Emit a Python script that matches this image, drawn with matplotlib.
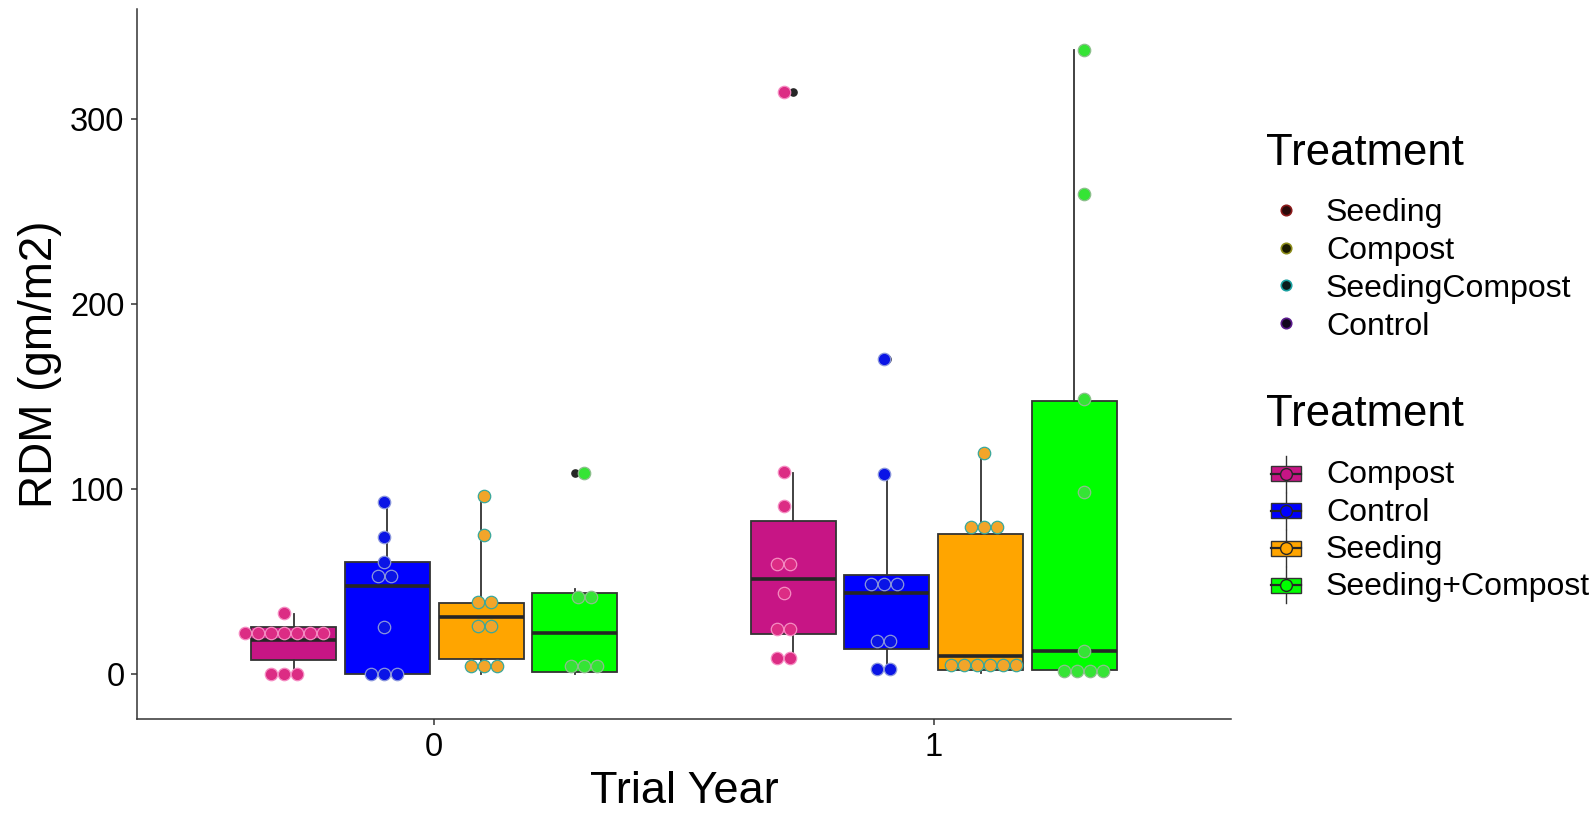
import matplotlib.pyplot as plt
import numpy as np
from matplotlib.patches import Rectangle

plt.rcParams["font.family"] = ["Liberation Sans", "DejaVu Sans"]

# categories
years = ["0", "1"]
treatments = ["Compost", "Control", "Seeding", "Seeding+Compost"]
point_treatments = ["Seeding", "Compost", "SeedingCompost", "Control"]

# box statistics, [year 0, year 1] for each treatment (same order as treatments)
box_whislo = [[0.0, 6.0], [0.0, 3.0], [0.0, 1.0], [0.0, 1.0]]
box_q1 = [[7.6, 22.0], [0.0, 13.9], [8.5, 2.4], [1.5, 2.4]]
box_med = [[18.6, 51.5], [47.9, 43.8], [30.8, 10.1], [22.2, 12.8]]
box_q3 = [[25.4, 82.9], [60.7, 53.7], [38.6, 75.7], [43.8, 147.8]]
box_whishi = [[32.5, 108.6], [92.8, 108.0], [96.4, 119.4], [46.1, 337.0]]
box_outliers = [[[], [314.3]], [[], [170.4]], [[], []], [[108.5], []]]

# dotplot bins: (value, number of stacked dots), per year
compost_dots = [
    [(0.0, 3), (22.2, 7), (33.0, 1)],
    [(8.7, 2), (24.3, 2), (43.8, 1), (59.6, 2), (91.0, 1), (109.5, 1), (314.3, 1)],
]
control_dots = [
    [(0.0, 3), (25.8, 1), (53.2, 2), (60.7, 1), (74.4, 1), (92.8, 1)],
    [(3.0, 2), (18.2, 2), (48.8, 3), (108.0, 1), (170.4, 1)],
]
seeding_dots = [
    [(4.5, 3), (26.3, 2), (38.8, 2), (75.3, 1), (96.4, 1)],
    [(5.1, 6), (79.8, 3), (119.4, 1)],
]
seedcomp_dots = [
    [(4.7, 3), (41.6, 2), (108.5, 1)],
    [(2.0, 4), (12.8, 1), (98.2, 1), (148.4, 1), (259.4, 1), (337.0, 1)],
]
all_dots = [compost_dots, control_dots, seeding_dots, seedcomp_dots]

# styles
box_colors = ["#C71585", "#0000FF", "#FFA500", "#00FF00"]
dot_fills = ["#DC2C84", "#0A14E6", "#F2A52A", "#35E435"]
dot_edges = ["#F58CC2", "#8A96DC", "#3AA89C", "#8CBF8C"]
point_fills = ["#2A0A0A", "#1A1A00", "#0A1A1A", "#12061E"]
point_edges = ["#8B1A1A", "#8C8C1A", "#1AA0A0", "#5A1A8C"]
line_col = "#333333"

W, H = 1595, 814
fig = plt.figure(figsize=(W / 100, H / 100), dpi=100)
ax_l, ax_r, ax_t, ax_b = 137, 1231, 9.5, 719
ax = fig.add_axes([ax_l / W, 1 - ax_b / H, (ax_r - ax_l) / W, (ax_b - ax_t) / H])

box_offsets = (np.arange(len(treatments)) - 1.5) * 0.1875
dot_offsets = (np.arange(len(treatments)) - 1.5) * 0.2
dot_dx = 0.026

for i, name in enumerate(treatments):
    stats = []
    for j in range(len(years)):
        stats.append(dict(whislo=box_whislo[i][j], q1=box_q1[i][j], med=box_med[i][j],
                          q3=box_q3[i][j], whishi=box_whishi[i][j],
                          fliers=box_outliers[i][j]))
    ax.bxp(stats, positions=np.arange(len(years)) + box_offsets[i], widths=0.17,
           patch_artist=True, showcaps=False, showfliers=True,
           boxprops=dict(facecolor=box_colors[i], edgecolor=line_col, linewidth=1.3),
           medianprops=dict(color="#262626", linewidth=2.6),
           whiskerprops=dict(color=line_col, linewidth=1.3),
           flierprops=dict(marker="o", markerfacecolor="#262626",
                           markeredgecolor="#262626", markersize=5.2))
    for j, groups in enumerate(all_dots[i]):
        for value, count in groups:
            xs = j + dot_offsets[i] + (np.arange(count) - (count - 1) / 2) * dot_dx
            ax.scatter(xs, np.full(count, value), s=80, facecolor=dot_fills[i],
                       edgecolor=dot_edges[i], linewidth=0.9, zorder=3)

ax.set_xlim(-0.595, 1.595)
ax.set_ylim(-24.1, 358.9)
ax.set_xticks(range(len(years)))
ax.set_xticklabels(years)
ax.set_yticks([0, 100, 200, 300])
for side in ["top", "right"]:
    ax.spines[side].set_visible(False)
for side in ["left", "bottom"]:
    ax.spines[side].set_color(line_col)
    ax.spines[side].set_linewidth(1.1)
ax.tick_params(length=4, width=1.1, color=line_col, labelsize=23.5, pad=5, labelcolor="black")

fig.text(684 / W, 1 - 803 / H, "Trial Year", fontsize=32.5, ha="center", va="baseline")
fig.text(40 / W, 1 - 364 / H, "RDM (gm/m2)", fontsize=33, rotation=90,
         ha="center", va="center")

# legends, laid out in figure pixels
lg = fig.add_axes([0, 0, 1, 1], zorder=5)
lg.set_xlim(0, W)
lg.set_ylim(H, 0)
lg.axis("off")

lg.text(1266, 165, "Treatment", fontsize=31.5, va="baseline")
for k, name in enumerate(point_treatments):
    yc = 210 + k * 37.7
    lg.plot(1286, yc, "o", markersize=7.5, markerfacecolor=point_fills[k],
            markeredgecolor=point_edges[k], markeredgewidth=1.2)
    lg.text(1326, yc + 11.5, name, fontsize=23, va="baseline")

lg.text(1266, 426.5, "Treatment", fontsize=31.5, va="baseline")
for k, name in enumerate(treatments):
    yc = 473.5 + k * 37.3
    lg.plot([1286, 1286], [yc - 18, yc + 18], color=line_col, linewidth=1.0, zorder=1)
    lg.add_patch(Rectangle((1271, yc - 7.5), 30, 15, facecolor=box_colors[k],
                           edgecolor=line_col, linewidth=1.0, zorder=2))
    lg.plot([1271, 1301], [yc, yc], color="#262626", linewidth=1.6, zorder=3)
    lg.plot(1286, yc, "o", markersize=8.5, markerfacecolor=box_colors[k],
            markeredgecolor="#262626", markeredgewidth=1.0, zorder=4)
    lg.text(1326, yc + 10, name, fontsize=23, va="baseline")

fig.savefig("out.png", dpi=100)
